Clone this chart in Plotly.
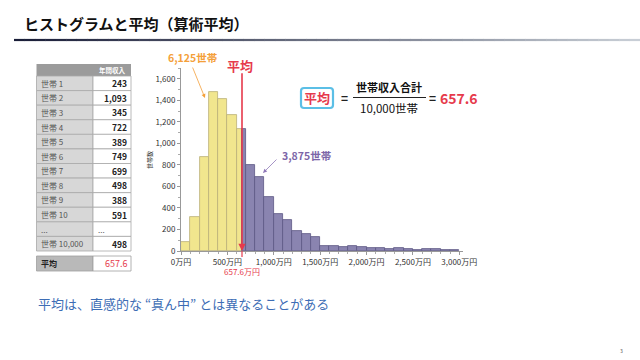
import plotly.graph_objects as go

# ---------------- data ----------------
bin_starts = list(range(0, 3000, 100))
bin_width = 100
counts = [85, 320, 870, 1480, 1415, 1260, 1130, 800, 690, 505,
          345, 290, 186, 155, 127, 43, 43, 37, 50, 37,
          28, 28, 22, 28, 19, 12, 19, 15, 12, 6]
mean_value = 657.6
below_label = "6,125世帯"
above_label = "3,875世帯"

table_labels = ["世帯 1", "世帯 2", "世帯 3", "世帯 4", "世帯 5", "世帯 6",
                "世帯 7", "世帯 8", "世帯 9", "世帯 10", "...", "世帯 10,000"]
table_values = [243, 1093, 345, 722, 389, 749, 699, 498, 388, 591, None, 498]
table_header = "年間収入"

x_ticks = [0, 500, 1000, 1500, 2000, 2500, 3000]
y_ticks = [0, 200, 400, 600, 800, 1000, 1200, 1400, 1600]

W, H = 640, 360
def px(x): return x / W
def py(y): return 1 - y / H

FONT = "Noto Sans CJK JP, Noto Sans, sans-serif"
YELLOW = "#f1e68e"
YELLOW_LINE = "#b9b07a"
PURPLE = "#8a84b0"
PURPLE_LINE = "#5c5783"
RED = "#e63a4c"

annotations = []
shapes = []

def text_at(x, y, text, size, color, xanchor="center", xref="paper", **kw):
    annotations.append(dict(x=x, y=y, xref=xref, yref="paper", text=text, showarrow=False,
                            xanchor=xanchor, yanchor="middle",
                            font=dict(family=FONT, size=size, color=color), **kw))

# split bars by mean
yx, yw, yh, ux, uw, uh = [], [], [], [], [], []
for s, c in zip(bin_starts, counts):
    e = s + bin_width
    if e <= mean_value:
        yx.append((s + e) / 2); yw.append(bin_width); yh.append(c)
    elif s >= mean_value:
        ux.append((s + e) / 2); uw.append(bin_width); uh.append(c)
    else:
        yx.append((s + mean_value) / 2); yw.append(mean_value - s); yh.append(c)
        ux.append((mean_value + e) / 2); uw.append(e - mean_value); uh.append(c)

fig = go.Figure()
fig.add_trace(go.Bar(x=yx, y=yh, width=yw, marker=dict(color=YELLOW, line=dict(color=YELLOW_LINE, width=0.8)),
                     hoverinfo="skip", showlegend=False))
fig.add_trace(go.Bar(x=ux, y=uh, width=uw, marker=dict(color=PURPLE, line=dict(color=PURPLE_LINE, width=0.8)),
                     hoverinfo="skip", showlegend=False))

# ---------- title & underline gradient ----------
text_at(px(22), py(24), "<b>ヒストグラムと平均（算術平均）</b>", 15, "#111111", xanchor="left")
n_seg = 60
x0, x1 = 14, 640
c0 = (26, 30, 56)
c1 = (200, 206, 214)
for i in range(n_seg):
    t = i / (n_seg - 1)
    col = tuple(int(c0[k] + (c1[k] - c0[k]) * t) for k in range(3))
    xa = x0 + (x1 - x0) * i / n_seg
    xb = min(640, x0 + (x1 - x0) * (i + 1) / n_seg + 0.5)
    shapes.append(dict(type="line", xref="paper", yref="paper", x0=px(xa), x1=px(xb), y0=py(40), y1=py(40),
                       line=dict(color="rgb(%d,%d,%d)" % col, width=2.2)))

# ---------- table ----------
tl, tm, tr = 36.5, 93, 131
head_top, head_bot = 64, 76
row_h = (251 - 76) / len(table_labels)
shapes.append(dict(type="rect", xref="paper", yref="paper", x0=px(tl), x1=px(tr), y0=py(head_bot), y1=py(head_top),
                   fillcolor="#9b9b9b", line=dict(width=0)))
text_at(px(112), py(70), "<b>" + table_header + "</b>", 6.5, "white")
for i, (lab, val) in enumerate(zip(table_labels, table_values)):
    top = head_bot + i * row_h
    bot = top + row_h
    shapes.append(dict(type="rect", xref="paper", yref="paper", x0=px(tl), x1=px(tm), y0=py(bot), y1=py(top),
                       fillcolor="#d7d7d7", line=dict(color="#a8a8a8", width=0.8)))
    shapes.append(dict(type="rect", xref="paper", yref="paper", x0=px(tm), x1=px(tr), y0=py(bot), y1=py(top),
                       fillcolor="white", line=dict(color="#a8a8a8", width=0.8)))
    text_at(px(39), py((top + bot) / 2), lab, 8, "#555555", xanchor="left")
    if val is None:
        text_at(px(96), py((top + bot) / 2), "...", 8, "#555555", xanchor="left")
    else:
        text_at(px(129), py((top + bot) / 2), "<b>{:,}</b>".format(val), 8.5, "#222222", xanchor="right")
# mean row
mtop, mbot = 256, 271
shapes.append(dict(type="rect", xref="paper", yref="paper", x0=px(tl), x1=px(tm), y0=py(mbot), y1=py(mtop),
                   fillcolor="#b9b9b9", line=dict(color="#a0a0a0", width=0.8)))
shapes.append(dict(type="rect", xref="paper", yref="paper", x0=px(tm), x1=px(tr), y0=py(mbot), y1=py(mtop),
                   fillcolor="white", line=dict(color="#a0a0a0", width=0.8)))
text_at(px(39), py((mtop + mbot) / 2), "<b>平均</b>", 8, "#222222", xanchor="left")
text_at(px(129), py((mtop + mbot) / 2), "{:.1f}".format(mean_value), 9, RED, xanchor="right")

# ---------- chart annotations ----------
annotations.append(dict(x=mean_value, y=0, xref="x", yref="y", ax=mean_value, ay=1665, axref="x", ayref="y",
                        showarrow=True, arrowhead=2, arrowsize=0.9, arrowwidth=1.6, arrowcolor=RED, text=""))
shapes.append(dict(type="line", xref="x", yref="paper", x0=mean_value, x1=mean_value, y0=py(251), y1=py(257),
                   line=dict(color=RED, width=1.2)))
text_at(mean_value, py(271), "{:.1f}万円".format(mean_value), 8, RED, xref="x")
text_at(px(240), py(65), "<b>平均</b>", 13, RED)
text_at(px(192), py(58), "<b>" + below_label + "</b>", 10.5, "#f4a03a")
annotations.append(dict(x=px(205), y=py(98), xref="paper", yref="paper", ax=-13, ay=-32,
                        axref="pixel", ayref="pixel", text="", showarrow=True, arrowhead=2, arrowsize=1,
                        arrowwidth=0.8, arrowcolor="#f4a03a"))
text_at(px(280), py(155), "<b>" + above_label + "</b>", 10.5, "#7d66a8", xanchor="left")
annotations.append(dict(x=px(263), y=py(173), xref="paper", yref="paper", ax=15, ay=-15,
                        axref="pixel", ayref="pixel", text="", showarrow=True, arrowhead=2, arrowsize=1,
                        arrowwidth=0.8, arrowcolor="#8f78b8"))
text_at(px(149), py(160), "世帯数", 6, "#333333", textangle=-90)

# ---------- formula ----------
bx0, bx1, by0, by1, r = 301, 333, 88, 108, 3
path = ("M {a},{b} L {c},{b} Q {d},{b} {d},{e} L {d},{f} Q {d},{g} {c},{g} L {a},{g} Q {h},{g} {h},{f} "
        "L {h},{e} Q {h},{b} {a},{b} Z").format(
    a=px(bx0 + r), b=py(by0), c=px(bx1 - r), d=px(bx1), e=py(by0 + r), f=py(by1 - r), g=py(by1), h=px(bx0))
shapes.append(dict(type="path", xref="paper", yref="paper", path=path, fillcolor="white",
                   line=dict(color="#5bbfe6", width=2.2)))
text_at(px(317), py(98), "<b>平均</b>", 13, RED)
text_at(px(344), py(98), "<b>=</b>", 12, "#222222")
text_at(px(389), py(87), "<b>世帯収入合計</b>", 11, "#111111")
shapes.append(dict(type="line", xref="paper", yref="paper", x0=px(353), x1=px(426), y0=py(97.5), y1=py(97.5),
                   line=dict(color="#222222", width=1)))
text_at(px(389), py(108), "10,000世帯", 11.5, "#111111")
text_at(px(427), py(98), "<b>=</b>", 12, "#222222", xanchor="left")
text_at(px(438), py(98), "<b>{:.1f}</b>".format(mean_value), 14, RED, xanchor="left")

# ---------- bottom text & page number ----------
text_at(px(36), py(303), "平均は、直感的な “真ん中” とは異なることがある", 13, "#3d6db5", xanchor="left")
text_at(px(621), py(350), "3", 5, "#555555")

fig.update_layout(
    width=W, height=H, margin=dict(l=0, r=0, t=0, b=0, pad=0, autoexpand=False), autosize=False,
    paper_bgcolor="white", plot_bgcolor="white", bargap=0, showlegend=False,
    shapes=shapes, annotations=annotations,
    xaxis=dict(domain=[px(181), px(463)], range=[0, 3040], tickvals=x_ticks, automargin=False,
               ticktext=["{:,}万円".format(v) for v in x_ticks], showgrid=False, zeroline=False,
               showline=True, linecolor="#999999", linewidth=1, ticks="outside", ticklen=3, tickcolor="#999999",
               minor=dict(dtick=100, ticks="outside", ticklen=2, tickcolor="#aaaaaa"),
               tickfont=dict(family=FONT, size=8, color="#333333")),
    yaxis=dict(domain=[py(251), py(68)], range=[0, 1700], tickvals=y_ticks, automargin=False,
               ticktext=["{:,}".format(v) for v in y_ticks], showgrid=False, zeroline=False,
               showline=True, linecolor="#999999", linewidth=1, ticks="outside", ticklen=3, tickcolor="#999999",
               minor=dict(dtick=100, ticks="outside", ticklen=2, tickcolor="#aaaaaa"),
               tickfont=dict(family=FONT, size=8, color="#333333")),
)

fig.write_html("out.html", config={"displayModeBar": False},
               post_script="document.body.style.margin='0';")
